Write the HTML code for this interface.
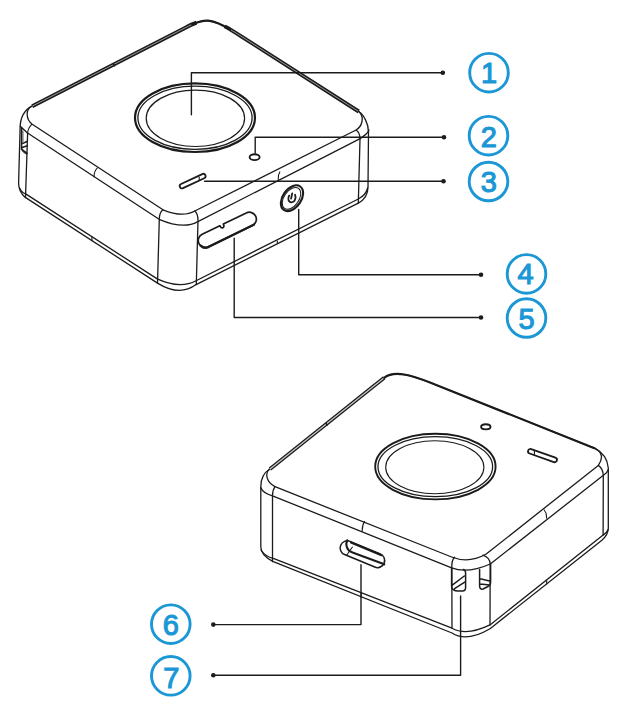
<!DOCTYPE html>
<html><head><meta charset="utf-8">
<style>
html,body{margin:0;padding:0;background:#fff;}
body{width:627px;height:720px;overflow:hidden;}
svg{display:block;}
.l{fill:none;stroke:#1c1a1b;stroke-width:1.3;stroke-linecap:round;stroke-linejoin:round;}
.t{fill:none;stroke:#1c1a1b;stroke-width:1.1;}
.n{font-family:"Liberation Sans",sans-serif;font-weight:normal;font-size:29px;fill:#1b97d5;stroke:#1b97d5;stroke-width:1.1px;}
.c{fill:none;stroke:#1b97d5;stroke-width:2.9;}
</style></head>
<body>
<svg width="627" height="720" viewBox="0 0 627 720">
<rect width="627" height="720" fill="#fff"/>
<!-- ============ TOP DEVICE ============ -->
<g id="d1">
<path class="l" d="M 32.2,106.2 L 185,27.9 C 207,16.64 212,17.6 242,36.8 L 358.7,111.5 C 364.1,115 368.5,124.2 368.5,132 L 368,187 C 368,195 364,200 358.3,203.2 L 196.1,284.6 Q 179.6,296.8 157.9,283.4 L 25.3,197.4 C 21,194 18.6,190 18.6,182.8 L 20.1,128.3 C 20.1,118 24,110 32.2,105.8 Z"/>
<path class="l" style="stroke-width:3.9;stroke-linecap:butt" d="M 32.2,106.2 L 185,27.9 C 189.40,25.65 193.12,23.88 196.50,22.66 M 224.76,26.37 C 229.52,28.93 235.10,32.38 242.00,36.80 L 358.7,111.5"/>
<path class="l" style="stroke:#9a9a9a;stroke-width:1.0;stroke-linecap:butt" d="M 32.2,106.2 L 185,27.9 C 189.40,25.65 193.12,23.88 196.50,22.66 M 224.76,26.37 C 229.52,28.93 235.10,32.38 242.00,36.80 L 358.7,111.5"/>
<path class="l" style="stroke-width:1.5" d="M 113.4,64 L 114.6,65.8"/>
<path class="l" style="stroke-width:2.2" d="M 192.26,24.38 C 205.78,18.37 212.93,19.25 230.05,29.37"/>
<path class="l" d="M 30.8,106.8 C 26,110 25.5,119 32.2,124.2 L 163,209.8 Q 182.7,218 194.8,211 L 356.1,130 C 362,126.5 365,117 358.7,111.5"/>
<path class="l" d="M 20.3,126.3 L 27.2,132.8 L 159.1,219.3 Q 183.35,229.6 197.4,221.9 L 360.6,138.3 C 364,136 368,133.5 369,130"/>
<path class="l" d="M 19.6,187.9 C 21,191 23,193 25.3,193.6 L 157.2,278.9 Q 179.95,289.35 196.1,280.8 L 358.3,199 C 363,196.5 366.5,193 367.6,188"/>
<path class="l" d="M 27.6,134 L 25.5,197.5 M 163,209.8 C 160,212 159.3,215 159.3,219.3 L 157.5,283.4 M 194.8,211 C 197,213 198,216 198,220 L 196.3,284.6 M 356.1,130 C 359,132 360,135 360,139 L 358.3,203.2"/>
<path class="t" d="M 32,124.2 Q 28,128 27.4,133.9 M 97.6,167.7 Q 94,171 94,177.2 M 280,171.5 Q 278,174.5 278.3,180.5 M 91.9,236.6 L 92,241.3 M 277.3,240.4 L 277.3,243.5"/>
<path class="l" style="stroke-width:1.5" d="M 21.6,128.3 L 21.5,149.2 M 21.8,143.9 L 27.4,141.2 M 22,147.5 L 27.4,145.8 M 21.3,148.3 Q 23,151 27.1,153.1"/>
<path class="t" style="stroke:#666;stroke-width:1.2" d="M 22.9,130.5 L 22.9,142.5"/>
<path class="t" d="M 21.8,150.2 Q 24,152.8 27,154.3"/>
<ellipse class="l" style="stroke-width:2.2" cx="195" cy="117.7" rx="60" ry="34.3"/>
<ellipse class="l" style="stroke-width:1.3" cx="195" cy="117.8" rx="57.1" ry="31.6"/>
<ellipse class="l" style="stroke-width:1.2" cx="195.4" cy="118.3" rx="49.2" ry="28.2"/>
<ellipse class="l" style="stroke-width:1.9" cx="254.6" cy="157.2" rx="5" ry="2.9"/>
<rect class="l" style="stroke-width:1.8" x="-14" y="-2.3" width="28" height="4.6" rx="2.3" transform="translate(192.65,181.1) rotate(-25)"/>
<path class="t" d="M 199.1,176.8 L 199.3,180"/>
<ellipse class="l" style="stroke-width:2.1" cx="0" cy="0" rx="14.3" ry="9.2" transform="translate(292,198.2) rotate(-55)"/>
<ellipse class="l" style="stroke-width:1" cx="0" cy="0" rx="12.2" ry="7.4" transform="translate(291.5,198.4) rotate(-55)"/>
<path class="l" style="stroke-width:1.8" d="M 289.2,195.6 C 287.6,198 288,202.4 291.5,202.3 C 295.1,202.2 296.4,197.5 295,194.7 M 292.2,193.4 L 291.1,198.6"/>
<g transform="translate(227.3,229.9) rotate(-25.8)"><path class="l" style="stroke-width:1.7" d="M -24.5,-7 L -4.9,-7 L -4.6,-4.8 Q -3,-3 -1.4,-4.8 L -1,-7 L 24.5,-7 A 7,7 0 0 1 24.5,7 L -24.5,7 A 7,7 0 0 1 -24.5,-7 Z"/><path class="l" style="stroke-width:2.4" d="M 26,6.8 L -24.5,7.2 A 7,7 0 0 1 -30.8,2.5"/></g>
<!-- leaders -->
<path class="l" style="stroke-width:1.4" d="M 191.4,114.8 L 191.4,72.7 L 442.8,72.7 M 255.2,153 L 255.2,137.2 L 444,137.2 M 204.5,181.3 L 443.5,181.3 M 298.7,209.5 L 298.7,274.7 L 481,274.7 M 234.2,238.3 L 234.2,317.5 L 481,317.5"/>
<g fill="#1c1a1b"><circle cx="442.8" cy="72.7" r="2.3"/><circle cx="444" cy="137.2" r="2.3"/><circle cx="443.5" cy="181.3" r="2.3"/><circle cx="481" cy="274.7" r="2.3"/><circle cx="481" cy="317.5" r="2.3"/></g>
</g>
<!-- ============ BOTTOM DEVICE ============ -->
<g id="d2">
<path class="l" d="M 270,469 L 384.2,377.8 C 394.2,369.8 412,375.48 430,382.5 L 594.4,448.2 C 601,451.5 607.5,458 608.3,468 L 608.3,528.3 C 608.3,534 605,537.5 601.9,540.3 L 490,628.7 Q 466.4,642.55 452,633 L 273.3,561.7 C 266,558 260.8,553 260.8,546.7 L 260.8,486.7 C 260.8,479 264,472.5 270,469 Z"/>
<path class="l" style="stroke-width:3.7;stroke-linecap:butt" d="M 270,469 L 384.2,377.8"/>
<path class="l" style="stroke:#c8c8c8;stroke-width:1.2;stroke-linecap:butt" d="M 270,469 L 384.2,377.8"/>
<path class="l" style="stroke-width:1.5" d="M 326,423.5 L 327.2,425"/>
<path class="l" style="stroke-width:2.2" d="M 384.2,377.8 C 394.2,369.8 412,375.48 430,382.5 L 594.4,448.2"/>
<path class="l" d="M 269.2,469.2 C 265,473 266,482 275,486.7 L 451.6,557 Q 468.65,563.75 485.9,554.3 L 598.3,465.4 C 603,459 603,452 594.4,448.2"/>
<path class="l" d="M 260.8,487.5 C 262,491 266,494 272.5,495.8 L 451.6,567.8 Q 467.3,574.1 490.3,564 L 605,474 C 606.5,473 607.5,471.5 608.3,469.5"/>
<path class="l" d="M 261,550 C 263,553 267,557 273.3,558.3 L 452,628.2 Q 466.4,636.25 490,624.9 L 603.1,535.1 C 605.5,533.5 607.5,531.5 608.1,529.5"/>
<path class="l" d="M 275,486.7 Q 272.5,490 272.5,495.8 L 272.5,561.7 M 454.5,557.3 C 452.5,559.5 451.8,562 451.8,566 L 452,628.2 M 483,555.1 C 488,557 490.2,560 490.2,564 L 490,624.9 M 598.3,465.4 C 602,468 603.3,471 603.3,476 L 603.1,535.1"/>
<path class="t" d="M 364.8,521.2 Q 362,525 362.2,531.4 M 361.2,592.2 L 361.2,597.8 M 543.9,509.5 Q 547,513 546.5,518.5 M 546.7,580.3 L 546.7,584.5"/>
<ellipse class="l" style="stroke-width:1.9" cx="435.4" cy="466.6" rx="60.2" ry="32.8"/>
<ellipse class="l" style="stroke-width:1.3" cx="435.3" cy="466.7" rx="57.3" ry="30.0"/>
<ellipse class="l" style="stroke-width:1.1" cx="434.8" cy="467.3" rx="49.1" ry="26.5"/>
<ellipse class="l" style="stroke-width:1.9" cx="485.8" cy="426.8" rx="4.7" ry="2.6"/>
<rect class="l" style="stroke-width:1.8" x="-15.2" y="-2.35" width="30.4" height="4.7" rx="2.35" transform="translate(542.5,455.6) rotate(19.5)"/>
<path class="t" d="M 534.4,450.3 L 534.4,455.4"/>
<rect class="l" style="stroke-width:1.5" x="-23.5" y="-7.15" width="47" height="14.3" rx="7.15" transform="translate(362.4,554.2) rotate(22.5)"/>
<path class="l" style="stroke-width:2.1" d="M 347.2,540.3 C 345.3,544.5 346.5,550.5 352.5,552.6 L 384.3,564.3 M 351,542.5 L 381.5,555.2"/>
<path class="t" d="M 346.6,555.2 L 352.6,546.8 M 378.4,567.9 L 383.2,565.3"/>
<path class="l" style="stroke-width:1.5" d="M 451.6,568.2 L 451.6,586.6 C 452,589 454,591 458,591 L 462.5,591 C 464.5,591 465.6,589.5 465.6,587.5 L 465.6,573 C 465.6,571 465,570 463.4,569.5 M 451.6,585.7 L 464.3,576 M 454.6,588.6 L 464.7,582.2"/>
<path class="l" style="stroke-width:1.5" d="M 479.6,569.5 L 479.6,586 C 479.6,588.5 481,589.5 483,589 L 488,586.5 C 490,585.5 490.6,584 490.6,582 L 490.6,564 M 480.1,578.7 L 490.6,581.3 M 480.1,584 L 489.8,585"/>
<path class="l" style="stroke-width:1.4" d="M 361,564.6 L 361,624.6 L 213.3,624.6 M 460.6,596 L 460.6,675.3 L 213.3,675.3"/>
<g fill="#1c1a1b"><circle cx="213.3" cy="624.6" r="2.3"/><circle cx="213.3" cy="675.3" r="2.3"/></g>
</g>
<!-- ============ NUMBERS ============ -->
<g>
<circle class="c" cx="489" cy="72.7" r="19.3"/>
<circle class="c" cx="488.5" cy="135.7" r="19.3"/>
<circle class="c" cx="488.5" cy="181.5" r="19.3"/>
<circle class="c" cx="526.5" cy="273.9" r="19.3"/>
<circle class="c" cx="526.5" cy="318" r="19.3"/>
<circle class="c" cx="170.8" cy="624.2" r="19.3"/>
<circle class="c" cx="170.8" cy="675.8" r="19.3"/>
<text class="n" x="489" y="83" text-anchor="middle">1</text>
<text class="n" x="488.8" y="146.8" text-anchor="middle">2</text>
<text class="n" x="488.8" y="192" text-anchor="middle">3</text>
<text class="n" x="525.5" y="284.3" text-anchor="middle">4</text>
<text class="n" x="526.5" y="328.6" text-anchor="middle">5</text>
<text class="n" x="170.8" y="635" text-anchor="middle">6</text>
<text class="n" x="171.2" y="687.5" text-anchor="middle">7</text>
</g>
</svg>
</body></html>
